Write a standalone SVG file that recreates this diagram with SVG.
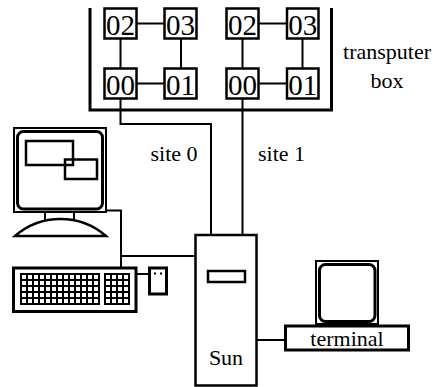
<svg xmlns="http://www.w3.org/2000/svg" width="436" height="387" viewBox="0 0 436 387" font-family="Liberation Serif, Times New Roman, Times, Noto Serif, DejaVu Serif, serif">
  <style>
    .ln { fill: none; stroke: #000; stroke-width: 2; }
    .thick { fill: none; stroke: #000; stroke-width: 3; }
    .box { fill: #fff; stroke: #000; stroke-width: 2.5; }
    .node-label { font-size: 29px; text-anchor: middle; fill: #000; }
    .label { font-size: 22px; fill: #000; }
    .mid { text-anchor: middle; }
  </style>
  <defs>
    <!-- key grid: white keys on a black board -->
    <pattern id="keys" x="20" y="273" width="6" height="6" patternUnits="userSpaceOnUse">
      <rect width="6" height="6" fill="#000"/>
      <rect x="2" y="2" width="4" height="4" fill="#fff"/>
    </pattern>
  </defs>

  <!-- transputer box enclosure -->
  <g id="transputer-box">
    <path class="thick" d="M90 8 V110 H331.5 V8"/>
    <text class="label mid" x="387" y="59">transputer</text>
    <text class="label mid" x="387" y="88">box</text>
  </g>

  <!-- connectors -->
  <g id="connectors">
    <!-- site 0 mesh -->
    <path class="ln" d="M136.5 23.5 H164.5"/>
    <path class="ln" d="M136.5 83.5 H164.5"/>
    <path class="ln" d="M120.5 38.5 V68.5"/>
    <path class="ln" d="M181 38.5 V68.5"/>
    <!-- site 1 mesh -->
    <path class="ln" d="M258.5 23.5 H287"/>
    <path class="ln" d="M258.5 83.5 H287"/>
    <path class="ln" d="M242.5 38.5 V68.5"/>
    <path class="ln" d="M302.5 38.5 V68.5"/>
    <!-- links to the Sun -->
    <path class="ln" d="M120.5 99 V124 H211 V235"/>
    <path class="ln" d="M242.5 99 V235"/>
    <!-- workstation cables -->
    <path class="ln" d="M106 210.5 H121 V268"/>
    <path class="ln" d="M121 256 H195.5"/>
    <path class="ln" d="M136 274 H149.5"/>
    <path class="ln" d="M256.5 340 H285.5"/>
  </g>

  <!-- site 0 transputers -->
  <g id="s0-02"><rect class="box" x="104.5" y="8.5" width="32" height="30"/><text class="node-label" x="120.5" y="34.5">02</text></g>
  <g id="s0-03"><rect class="box" x="164.5" y="8.5" width="32" height="30"/><text class="node-label" x="180.5" y="34.5">03</text></g>
  <g id="s0-00"><rect class="box" x="104.5" y="68.5" width="32" height="30"/><text class="node-label" x="120.5" y="94.5">00</text></g>
  <g id="s0-01"><rect class="box" x="164.5" y="68.5" width="32" height="30"/><text class="node-label" x="180.5" y="94.5">01</text></g>

  <!-- site 1 transputers -->
  <g id="s1-02"><rect class="box" x="226.5" y="8.5" width="32" height="30"/><text class="node-label" x="242.5" y="34.5">02</text></g>
  <g id="s1-03"><rect class="box" x="287" y="8.5" width="31.5" height="30"/><text class="node-label" x="302.75" y="34.5">03</text></g>
  <g id="s1-00"><rect class="box" x="226.5" y="68.5" width="32" height="30"/><text class="node-label" x="242.5" y="94.5">00</text></g>
  <g id="s1-01"><rect class="box" x="287" y="68.5" width="31.5" height="30"/><text class="node-label" x="302.75" y="94.5">01</text></g>

  <!-- link labels -->
  <g id="site-labels">
    <text class="label" x="150.5" y="161">site 0</text>
    <text class="label" x="258" y="161">site 1</text>
  </g>

  <!-- workstation monitor -->
  <g id="monitor">
    <rect x="14" y="128" width="92" height="84" fill="#fff" stroke="#000" stroke-width="2"/>
    <rect x="17.5" y="131.5" width="85" height="77.5" rx="6" fill="none" stroke="#000" stroke-width="3"/>
    <rect x="26" y="141" width="47" height="24" fill="none" stroke="#000" stroke-width="2.5"/>
    <rect x="65" y="159.5" width="32" height="19.5" fill="none" stroke="#000" stroke-width="2.5"/>
    <path class="ln" d="M45 212 V220 M74 212 V220"/>
    <path d="M15 236 A69.4 69.4 0 0 1 106 236 Z" fill="#fff" stroke="#000" stroke-width="2.5"/>
  </g>

  <!-- keyboard -->
  <g id="keyboard">
    <rect x="13.5" y="268" width="122.5" height="43.5" fill="#fff" stroke="#000" stroke-width="3"/>
    <rect x="20" y="273" width="80" height="32" fill="url(#keys)"/>
    <rect x="104" y="273" width="26" height="32" fill="url(#keys)"/>
  </g>

  <!-- mouse -->
  <g id="mouse">
    <rect x="149.5" y="268" width="17" height="26" fill="#fff" stroke="#000" stroke-width="3"/>
    <rect x="154" y="272.5" width="2" height="2" fill="#000"/>
    <rect x="160" y="272.5" width="2" height="2" fill="#000"/>
  </g>

  <!-- Sun host -->
  <g id="sun">
    <rect class="box" x="195.5" y="235" width="61" height="150.5"/>
    <rect class="box" x="208" y="271" width="37" height="11"/>
    <text class="label mid" x="226" y="365">Sun</text>
  </g>

  <!-- terminal -->
  <g id="terminal">
    <rect x="316" y="261" width="62" height="63" fill="#fff" stroke="#000" stroke-width="2"/>
    <rect x="319.5" y="264.5" width="55.5" height="57" rx="6" fill="none" stroke="#000" stroke-width="3"/>
    <rect x="285.5" y="326" width="123" height="24" fill="#fff" stroke="#000" stroke-width="3"/>
    <text class="label mid" x="347" y="346">terminal</text>
  </g>
</svg>
